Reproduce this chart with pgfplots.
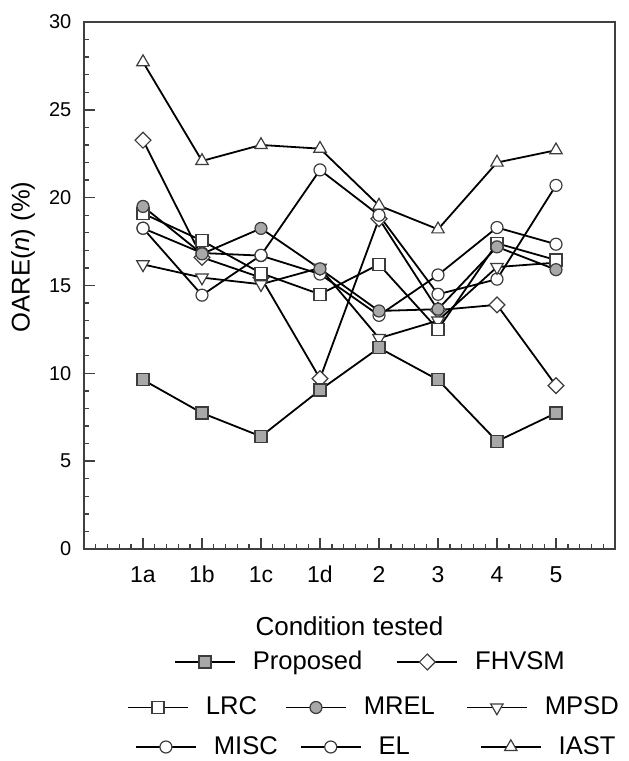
\documentclass[border=0pt]{standalone}
\usepackage{fontspec}
\setmainfont{Liberation Sans}
\usepackage{pgfplots}
\pgfplotsset{compat=1.18}
\definecolor{markgray}{RGB}{168,168,168}
\definecolor{edgegray}{RGB}{60,60,60}
\pgfplotsset{
  sProp/.style={black, line width=0.9pt, mark=square*, mark size=3pt, mark options={solid, line width=0.6pt, draw=edgegray, fill=markgray}},
  sFHV/.style={black, line width=0.9pt, mark=square*, mark size=2.8pt, mark options={solid, rotate=45, line width=0.6pt, draw=edgegray, fill=white}},
  sLRC/.style={black, line width=0.9pt, mark=square*, mark size=3pt, mark options={solid, line width=0.6pt, draw=edgegray, fill=white}},
  sMREL/.style={black, line width=0.9pt, mark=*, mark size=3pt, mark options={solid, line width=0.6pt, draw=edgegray, fill=markgray}},
  sMPSD/.style={black, line width=0.9pt, mark=triangle*, mark size=3.6pt, mark options={solid, rotate=180, line width=0.6pt, draw=edgegray, fill=white}},
  sCirc/.style={black, line width=0.9pt, mark=*, mark size=3pt, mark options={solid, line width=0.6pt, draw=edgegray, fill=white}},
  sIAST/.style={black, line width=0.9pt, mark=triangle*, mark size=3.6pt, mark options={solid, line width=0.6pt, draw=edgegray, fill=white}},
  legrow/.style={
    at={(0pt,0pt)}, anchor=south west, scale only axis, width=314pt, height=380.5pt,
    hide axis, xmin=0, xmax=1, ymin=0, ymax=1,
    legend columns=-1,
    legend image code/.code={\draw[mark repeat=2,mark phase=2,##1] plot coordinates {(0pt,0pt) (15pt,0pt) (30pt,0pt)};},
    legend style={draw=none, fill=none, inner sep=0pt, outer sep=0pt, anchor=west,
      font=\fontsize{12.8}{15}\selectfont,
      nodes={inner sep=2pt},
      /tikz/every odd column/.append style={column sep=6.5pt}},
  },
}
\begin{document}
\begin{tikzpicture}
\path[use as bounding box] (0pt,0pt) rectangle (314pt,380.5pt);
\begin{axis}[
  at={(42pt,106pt)}, anchor=south west,
  scale only axis, width=265.5pt, height=263.5pt,
  xmin=0, xmax=9, ymin=0, ymax=30,
  xtick={1,2,3,4,5,6,7,8}, xticklabels={1a,1b,1c,1d,2,3,4,5},
  minor xtick={0.2,0.4,...,8.9},
  ytick={0,5,...,30}, minor ytick={0,1,...,30},
  tick align=inside, tick pos=left,
  major tick length=5.5pt, minor tick length=2.5pt,
  axis line style={line width=1pt, draw=black!75},
  every tick/.style={black!75, line width=0.7pt},
  /pgf/number format/assume math mode=true,
  xticklabel style={font=\fontsize{11.5}{13}\selectfont, anchor=base, yshift=-17pt},
  yticklabel style={font=\fontsize{10}{11}\selectfont, anchor=east, xshift=-2.8pt},
  xlabel={Condition tested},
  ylabel={OARE(\textit{n}) (\%)},
  xlabel style={at={(axis description cs:0.5,-0.1461)}, anchor=center, font=\fontsize{13}{15}\selectfont},
  ylabel style={at={(axis description cs:-0.1149,0.554)}, anchor=center, font=\fontsize{12.8}{15}\selectfont},
]
\addplot[sIAST] coordinates {(1,27.72) (2,22.09) (3,23.0) (4,22.79) (5,19.55) (6,18.2) (7,22.0) (8,22.7)};
\addplot[sCirc] coordinates {(1,18.26) (2,16.85) (3,16.7) (4,15.65) (5,13.3) (6,15.6) (7,18.3) (8,17.35)};
\addplot[sFHV] coordinates {(1,23.27) (2,16.6) (3,15.45) (4,9.7) (5,18.8) (6,13.6) (7,13.9) (8,9.3)};
\addplot[sCirc] coordinates {(1,18.26) (2,14.45) (3,16.72) (4,21.58) (5,19.0) (6,14.5) (7,15.36) (8,20.7)};
\addplot[sMPSD] coordinates {(1,16.2) (2,15.45) (3,15.07) (4,16.0) (5,12.0) (6,13.0) (7,16.05) (8,16.3)};
\addplot[sLRC] coordinates {(1,19.1) (2,17.55) (3,15.7) (4,14.5) (5,16.2) (6,12.5) (7,17.4) (8,16.45)};
\addplot[sMREL] coordinates {(1,19.5) (2,16.8) (3,18.25) (4,15.95) (5,13.55) (6,13.65) (7,17.2) (8,15.9)};
\addplot[sProp] coordinates {(1,9.63) (2,7.74) (3,6.41) (4,9.05) (5,11.45) (6,9.63) (7,6.13) (8,7.74)};
\end{axis}
% legend row 1
\begin{axis}[legrow,
  legend style={at={(axis description cs:0.2771,0.1301)},
    /tikz/column 2/.style={column sep=15pt}}]
\addlegendimage{sProp}\addlegendentry{Proposed}
\addlegendimage{sFHV}\addlegendentry{FHVSM}
\end{axis}
% legend row 2
\begin{axis}[legrow,
  legend style={at={(axis description cs:0.2023,0.0703)},
    /tikz/column 2/.style={column sep=12pt},
    /tikz/column 4/.style={column sep=13.5pt}}]
\addlegendimage{sLRC}\addlegendentry{LRC}
\addlegendimage{sMREL}\addlegendentry{MREL}
\addlegendimage{sMPSD}\addlegendentry{MPSD}
\end{axis}
% legend row 3
\begin{axis}[legrow,
  legend style={at={(axis description cs:0.2150,0.0184)},
    /tikz/column 2/.style={column sep=9pt},
    /tikz/column 4/.style={column sep=33pt}}]
\addlegendimage{sCirc}\addlegendentry{MISC}
\addlegendimage{sCirc}\addlegendentry{EL}
\addlegendimage{sIAST}\addlegendentry{IAST}
\end{axis}
\end{tikzpicture}
\end{document}
